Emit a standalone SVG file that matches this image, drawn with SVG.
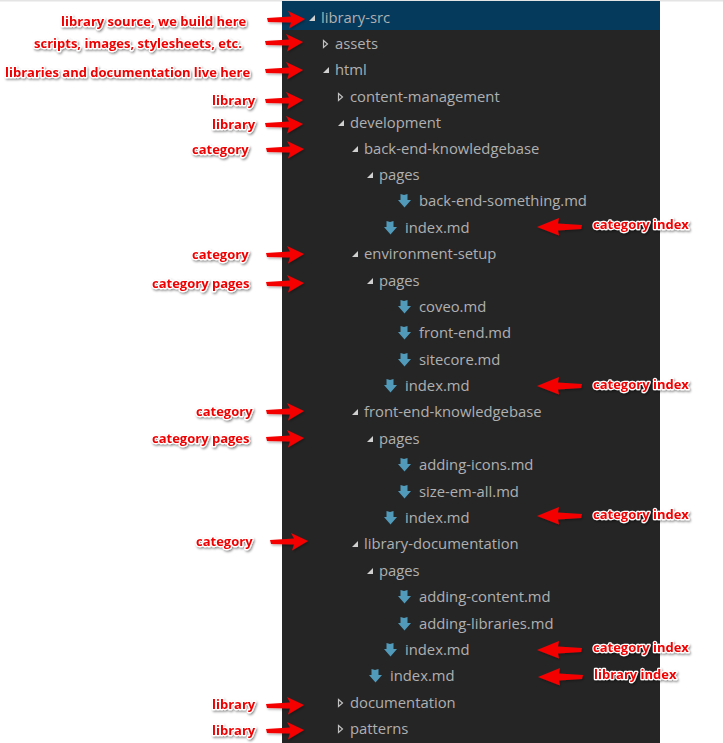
<svg xmlns="http://www.w3.org/2000/svg" xmlns:xlink="http://www.w3.org/1999/xlink" width="723" height="743" viewBox="0 0 723 743">
<defs>
<style>
.t{font-family:"Open Sans","Noto Sans",sans-serif;font-size:14.8px;fill:#b0b0b0}
.l{font-family:"Open Sans","Noto Sans",sans-serif;font-size:13px;font-weight:700;fill:#f00000;stroke:#fff;stroke-width:2.4px;paint-order:stroke;stroke-linejoin:round;filter:url(#sh)}
.open{fill:#d0d0d0}
.closed{fill:none;stroke:#c0c0c0;stroke-width:1.2}
.md{fill:#519aba}
.ar{fill:#f50000;filter:url(#sh2)}
</style>
<filter id="sh" x="-10%" y="-30%" width="120%" height="170%"><feDropShadow dx="1" dy="1.5" stdDeviation="1" flood-color="#000" flood-opacity=".45"/></filter>
<filter id="sh2" x="-10%" y="-30%" width="125%" height="170%"><feDropShadow dx="1" dy="1.5" stdDeviation="1" flood-color="#000" flood-opacity=".3"/></filter>
<path id="ra" d="M0,-2 L24,-3.5 L21,-9 L38,-1 L22,8.5 L24,2.5 L1,2 Z"/>
<path id="la" d="M45,-2 L21,-3.5 L22,-9 L0,0 L22,8.5 L21,3.5 L44,2 Z"/>
<path id="opn" d="M6,-3 V3 H0 Z"/>
<path id="cls" d="M0.5,-3.5 L4.5,0 L0.5,3.5 Z"/>
<path id="mdi" d="M2.5,-7 L6,-6 L9.5,-7 V-1 H13 L6.5,6.5 L0,-1 H2.5 Z"/>
</defs>
<rect width="723" height="743" fill="#fff"/>
<rect width="723" height="1.5" fill="#e4e4e4"/>
<g id="panel"><rect x="282" y="1" width="378" height="742" fill="#252526"/><rect x="282" y="1" width="378" height="29" fill="#063a5c"/></g>
<g id="tree">
<g id="n1"><use href="#opn" class="open" x="309" y="18"/><text class="t" x="321" y="23">library-src</text></g>
<g id="n2"><use href="#cls" class="closed" x="323" y="44"/><text class="t" x="335" y="49">assets</text></g>
<g id="n3"><use href="#opn" class="open" x="323" y="70"/><text class="t" x="335" y="75">html</text></g>
<g id="n4"><use href="#cls" class="closed" x="338" y="97"/><text class="t" x="350" y="102">content-management</text></g>
<g id="n5"><use href="#opn" class="open" x="338" y="123"/><text class="t" x="350" y="128">development</text></g>
<g id="n6"><use href="#opn" class="open" x="352" y="149"/><text class="t" x="364" y="154">back-end-knowledgebase</text></g>
<g id="n7"><use href="#opn" class="open" x="367" y="175"/><text class="t" x="379" y="180">pages</text></g>
<g id="n8"><use href="#mdi" class="md" x="398" y="201"/><text class="t" x="419" y="206">back-end-something.md</text></g>
<g id="n9"><use href="#mdi" class="md" x="384" y="228"/><text class="t" x="405" y="233">index.md</text></g>
<g id="n10"><use href="#opn" class="open" x="352" y="254"/><text class="t" x="364" y="259">environment-setup</text></g>
<g id="n11"><use href="#opn" class="open" x="367" y="281"/><text class="t" x="379" y="286">pages</text></g>
<g id="n12"><use href="#mdi" class="md" x="398" y="307"/><text class="t" x="419" y="312">coveo.md</text></g>
<g id="n13"><use href="#mdi" class="md" x="398" y="333"/><text class="t" x="419" y="338">front-end.md</text></g>
<g id="n14"><use href="#mdi" class="md" x="398" y="360"/><text class="t" x="419" y="365">sitecore.md</text></g>
<g id="n15"><use href="#mdi" class="md" x="384" y="386"/><text class="t" x="405" y="391">index.md</text></g>
<g id="n16"><use href="#opn" class="open" x="352" y="412"/><text class="t" x="364" y="417">front-end-knowledgebase</text></g>
<g id="n17"><use href="#opn" class="open" x="367" y="439"/><text class="t" x="379" y="444">pages</text></g>
<g id="n18"><use href="#mdi" class="md" x="398" y="465"/><text class="t" x="419" y="470">adding-icons.md</text></g>
<g id="n19"><use href="#mdi" class="md" x="398" y="492"/><text class="t" x="419" y="497">size-em-all.md</text></g>
<g id="n20"><use href="#mdi" class="md" x="384" y="518"/><text class="t" x="405" y="523">index.md</text></g>
<g id="n21"><use href="#opn" class="open" x="352" y="544"/><text class="t" x="364" y="549">library-documentation</text></g>
<g id="n22"><use href="#opn" class="open" x="367" y="571"/><text class="t" x="379" y="576">pages</text></g>
<g id="n23"><use href="#mdi" class="md" x="398" y="597"/><text class="t" x="419" y="602">adding-content.md</text></g>
<g id="n24"><use href="#mdi" class="md" x="398" y="624"/><text class="t" x="419" y="629">adding-libraries.md</text></g>
<g id="n25"><use href="#mdi" class="md" x="384" y="650"/><text class="t" x="405" y="655">index.md</text></g>
<g id="n26"><use href="#mdi" class="md" x="369" y="676"/><text class="t" x="390" y="681">index.md</text></g>
<g id="n27"><use href="#cls" class="closed" x="338" y="703"/><text class="t" x="350" y="708">documentation</text></g>
<g id="n28"><use href="#cls" class="closed" x="338" y="729"/><text class="t" x="350" y="734">patterns</text></g>
</g>
<g id="connectors">
<use href="#ra" class="ar" x="267" y="20"/>
<use href="#ra" class="ar" x="265" y="43"/>
<use href="#ra" class="ar" x="265" y="71"/>
<use href="#ra" class="ar" x="265" y="101"/>
<use href="#ra" class="ar" x="265" y="125"/>
<use href="#ra" class="ar" x="266" y="150"/>
<use href="#ra" class="ar" x="266" y="255"/>
<use href="#ra" class="ar" x="266" y="284"/>
<use href="#ra" class="ar" x="266" y="412"/>
<use href="#ra" class="ar" x="266" y="439"/>
<use href="#ra" class="ar" x="270" y="542"/>
<use href="#ra" class="ar" x="266" y="706"/>
<use href="#ra" class="ar" x="266" y="731"/>
<use href="#la" class="ar" x="537" y="227"/>
<use href="#la" class="ar" x="537" y="386"/>
<use href="#la" class="ar" x="537" y="516"/>
<use href="#la" class="ar" x="537" y="650"/>
<use href="#la" class="ar" x="538" y="677"/>
</g>
<g id="labels">
<g id="a1"><text class="l" x="61" y="26">library source, we build here</text></g>
<g id="a2"><text class="l" x="34" y="48">scripts, images, stylesheets, etc.</text></g>
<g id="a3"><text class="l" x="5" y="77">libraries and documentation live here</text></g>
<g id="a4"><text class="l" x="212" y="105">library</text></g>
<g id="a5"><text class="l" x="212" y="129">library</text></g>
<g id="a6"><text class="l" x="192" y="154">category</text></g>
<g id="a7"><text class="l" x="192" y="259">category</text></g>
<g id="a8"><text class="l" x="152" y="288">category pages</text></g>
<g id="a9"><text class="l" x="196" y="416">category</text></g>
<g id="a10"><text class="l" x="152" y="443">category pages</text></g>
<g id="a11"><text class="l" x="196" y="546">category</text></g>
<g id="a12"><text class="l" x="212" y="709">library</text></g>
<g id="a13"><text class="l" x="212" y="735">library</text></g>
<g id="a14"><text class="l" x="593" y="229">category index</text></g>
<g id="a15"><text class="l" x="593" y="389">category index</text></g>
<g id="a16"><text class="l" x="593" y="519">category index</text></g>
<g id="a17"><text class="l" x="593" y="652">category index</text></g>
<g id="a18"><text class="l" x="594" y="679">library index</text></g>
</g>
</svg>
